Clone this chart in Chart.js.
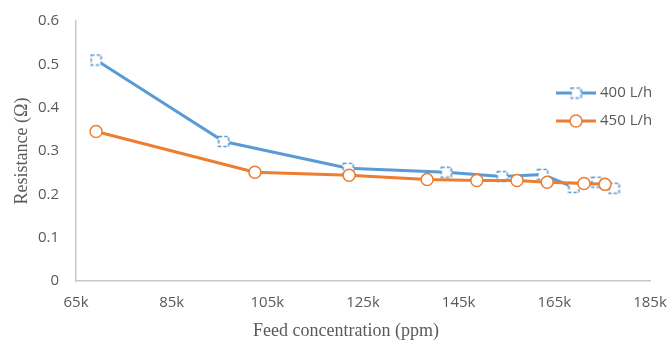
<!DOCTYPE html>
<html>
<head>
<meta charset="utf-8">
<script src="https://cdn.jsdelivr.net/npm/chart.js@4"></script>
<style>
  body { margin: 0; background: #fff; }
  canvas { display: block; }
</style>
</head>
<body>
<canvas id="chart" width="670" height="342"></canvas>
<script>
// feed concentration (ppm) and measured resistance for each flow rate
const feed400 = [69200, 95900, 121900, 142400, 154100, 162600, 169100, 173900, 177500]
const resistance400 = [0.510, 0.322, 0.260, 0.251, 0.241, 0.246, 0.216, 0.228, 0.214]

const feed450 = [69200, 102400, 122100, 138400, 148800, 157200, 163500, 171200, 175600]
const resistance450 = [0.345, 0.251, 0.244, 0.234, 0.232, 0.232, 0.228, 0.225, 0.223]

const seriesNames = ['400 L/h', '450 L/h']
const xTicks = [65000, 85000, 105000, 125000, 145000, 165000, 185000]

const blue = '#5B9BD5'
const orange = '#ED7D31'
const textGrey = '#595959'
const tickFont = { family: 'Open Sans', size: 15 }

const pairs = (xs, ys) => xs.map((x, i) => ({ x: x, y: ys[i] }))

// white square with a dashed outline, used as the 400 L/h marker
function dashedSquare() {
    const c = document.createElement('canvas')
    c.width = 13
    c.height = 13
    const g = c.getContext('2d')
    g.fillStyle = '#fff'
    g.fillRect(1, 1, 11, 11)
    g.strokeStyle = blue
    g.lineWidth = 1.6
    g.setLineDash([3.5, 2])
    g.strokeRect(1.5, 1.5, 10, 10)
    return c
}
const squareMark = dashedSquare()

// legend sits inside the plot, line with marker in the middle
const sideLegend = {
    id: 'sideLegend',
    afterDraw(chart) {
        const ctx = chart.ctx
        const rows = [
            { label: seriesNames[0], color: blue, y: 93 },
            { label: seriesNames[1], color: orange, y: 121 }
        ]
        ctx.save()
        rows.forEach((r, i) => {
            ctx.strokeStyle = r.color
            ctx.lineWidth = 3
            ctx.beginPath()
            ctx.moveTo(556, r.y)
            ctx.lineTo(596, r.y)
            ctx.stroke()
            if (i === 0) {
                ctx.drawImage(squareMark, 576 - 6.5, r.y - 6.5)
            } else {
                ctx.fillStyle = '#fff'
                ctx.lineWidth = 1.5
                ctx.beginPath()
                ctx.arc(576, r.y, 6, 0, Math.PI * 2)
                ctx.fill()
                ctx.stroke()
            }
            ctx.fillStyle = textGrey
            ctx.font = '15px "Open Sans"'
            ctx.textBaseline = 'middle'
            ctx.fillText(r.label, 600, r.y)
        })
        // x axis title
        ctx.font = '18px "Liberation Serif"'
        ctx.textAlign = 'center'
        ctx.textBaseline = 'middle'
        ctx.fillStyle = textGrey
        ctx.fillText('Feed concentration (ppm)', 346, 331)
        ctx.restore()
    }
}

new Chart(document.getElementById('chart'), {
    type: 'line',
    data: {
        datasets: [
            {
                label: seriesNames[0],
                data: pairs(feed400, resistance400),
                borderColor: blue,
                borderWidth: 3,
                pointStyle: squareMark,
                pointRadius: 6,
                order: 1
            },
            {
                label: seriesNames[1],
                data: pairs(feed450, resistance450),
                borderColor: orange,
                borderWidth: 3,
                pointStyle: 'circle',
                pointRadius: 6,
                pointBorderWidth: 1.5,
                pointBackgroundColor: '#fff',
                pointBorderColor: orange,
                order: 0
            }
        ]
    },
    options: {
        responsive: false,
        animation: false,
        layout: { padding: { top: 21, right: 20, left: 0, bottom: 0 } },
        plugins: {
            legend: { display: false },
            tooltip: { enabled: false }
        },
        scales: {
            x: {
                type: 'linear',
                min: 65000,
                max: 185000,
                afterBuildTicks: (scale) => { scale.ticks = xTicks.map(v => ({ value: v })) },
                afterFit: (scale) => {
                    scale.height = 61
                    scale.paddingLeft = 0
                    scale.paddingRight = 0
                },
                grid: { display: false, drawTicks: false },
                border: { display: true, color: '#c8c8c8', width: 1.5 },
                ticks: {
                    color: textGrey,
                    font: tickFont,
                    padding: 13,
                    maxRotation: 0,
                    callback: (v) => (v / 1000) + 'k'
                }
            },
            y: {
                min: 0,
                max: 0.6,
                afterFit: (scale) => {
                    scale.width = 76
                    scale.paddingTop = 0
                    scale.paddingBottom = 0
                },
                grid: { display: false, drawTicks: false },
                border: { display: true, color: '#c8c8c8', width: 1.5 },
                ticks: {
                    stepSize: 0.1,
                    color: textGrey,
                    font: tickFont,
                    padding: 17
                },
                title: {
                    display: true,
                    text: 'Resistance (Ω)',
                    color: textGrey,
                    font: { family: 'Liberation Serif', size: 18 },
                    padding: { top: 11, bottom: 0 }
                }
            }
        }
    },
    plugins: [sideLegend]
})
</script>
</body>
</html>
